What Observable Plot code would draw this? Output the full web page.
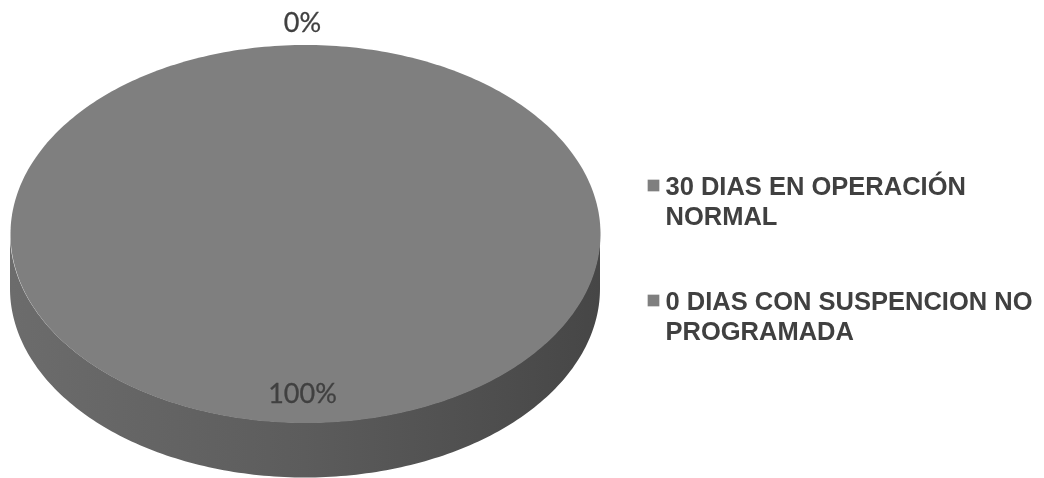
<!DOCTYPE html>
<html>
<head>
<meta charset="utf-8">
<script src="https://cdn.jsdelivr.net/npm/d3@7"></script>
<script src="https://cdn.jsdelivr.net/npm/@observablehq/plot@0.6"></script>
<style>
html,body{margin:0;padding:0;background:#fff;overflow:hidden}
svg{display:block;filter:blur(0.7px)}
</style>
</head>
<body>
<div id="chart"></div>
<script>
// Data
const categories = ["30 DIAS EN OPERACIÓN\nNORMAL", "0 DIAS CON SUSPENCION NO\nPROGRAMADA"];
const values = [30, 0];

// Layout (pie drawn in pixel-like units through Plot's linear scales)
const W = 1044, H = 478;
const cx = 305, cy = 233.5, rx = 295, ry = 189, depth = 55;
const total = d3.sum(values);
const px = (a, k = 1) => cx + rx * k * Math.sin(a);
const py = (a, k = 1) => cy - ry * k * Math.cos(a);
const step = Math.PI / 180;

// Slices derived from the values: clockwise from the top
let acc = 0;
const slices = categories.map((category, i) => {
  const start = acc / total * 2 * Math.PI;
  acc += values[i];
  const end = acc / total * 2 * Math.PI;
  return {category, value: values[i], share: values[i] / total, start, end, mid: (start + end) / 2};
});

const outline = s => d3.range(s.start, s.end, step).concat(s.end).map(a => ({x: px(a), y: py(a)}));
const topFace = slices.filter(s => s.value > 0).flatMap(outline);
const wall = d3.range(90, 270.5, 1).map(d => d * step).map(a => ({x: px(a), y1: py(a), y2: py(a) + depth}));

const labels = slices.map(s => ({
  text: `${Math.round(s.share * 100)}%`,
  x: px(s.mid),
  y: py(s.mid, s.value > 0 ? 0.85 : 1.116)
}));
const legend = categories.map((text, i) => ({text, y: 185 + i * 115}));

const plot = Plot.plot({
  width: W, height: H,
  margin: 0,
  x: {domain: [0, W], range: [0, W], axis: null},
  y: {domain: [0, H], range: [0, H], axis: null},
  style: {background: "#fff"},
  marks: [
    Plot.areaY(wall, {x: "x", y1: "y1", y2: "y2", fill: "url(#sideShade)", stroke: "none", curve: "linear"}),
    Plot.line(topFace, {x: "x", y: "y", fill: "#7f7f7f", stroke: "none", curve: "linear"}),
    Plot.text(labels, {x: "x", y: "y", dx: -3, text: "text", fill: "#404040", fontFamily: "Lato", fontSize: 27, stroke: "#404040", strokeWidth: 0.3}),
    Plot.dot(legend, {x: () => 653, y: "y", symbol: "square", r: 6.6, fill: "#7f7f7f"}),
    Plot.text(legend, {x: () => 665, y: d => d.y + 15, text: "text", textAnchor: "start", lineHeight: 1.18, lineAnchor: "middle",
      fill: "#404040", fontFamily: "Liberation Sans", fontWeight: "bold", fontSize: 25.5})
  ]
});

// Shading for the side wall
const defs = document.createElementNS("http://www.w3.org/2000/svg", "defs");
defs.innerHTML = `<linearGradient id="sideShade" gradientUnits="userSpaceOnUse" x1="${cx - rx}" x2="${cx + rx}" y1="0" y2="0">
<stop offset="0" stop-color="#6c6c6c"/><stop offset="0.5" stop-color="#5c5c5c"/><stop offset="1" stop-color="#464646"/></linearGradient>`;
plot.prepend(defs);
document.getElementById("chart").append(plot);
</script>
</body>
</html>
